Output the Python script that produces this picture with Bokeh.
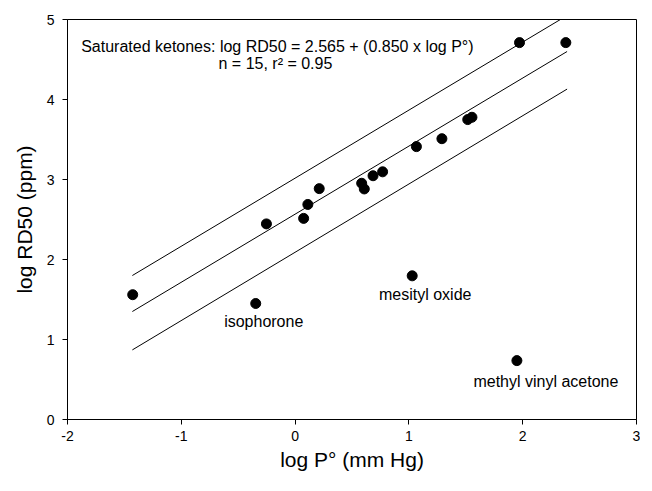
from bokeh.plotting import figure
from bokeh.models import ColumnDataSource, FixedTicker, Range1d
from bokeh.core.properties import value
from bokeh.embed import file_html
from bokeh.resources import INLINE

# Saturated ketones (n = 15)
sat_x = [-1.427, -0.252, 0.075, 0.112, 0.212, 0.585, 0.608, 0.685, 0.769,
         1.066, 1.290, 1.517, 1.554, 1.972, 2.379]
sat_y = [1.56, 2.445, 2.514, 2.688, 2.886, 2.953, 2.882, 3.047, 3.096,
         3.411, 3.51, 3.749, 3.778, 4.711, 4.711]

# Outliers
out_names = ["isophorone", "mesityl oxide", "methyl vinyl acetone"]
out_x = [-0.346, 1.029, 1.949]
out_y = [1.45, 1.796, 0.736]

# Regression line and band (end points)
line_x = [-1.43, 2.39]
fit_y = [1.35, 4.60]
upper_y = [1.80, 5.05]
lower_y = [0.87, 4.13]

x_ticks = [-2, -1, 0, 1, 2, 3]
x_tick_labels = ["-2", "-1", "0", "1", "2", "3"]
y_ticks = [0, 1, 2, 3, 4, 5]
y_tick_labels = ["0", "1", "2", "3", "4", "5"]

eq_line1 = "Saturated ketones: log RD50 = 2.565 + (0.850 x log P\u00b0)"
eq_line2 = "n = 15, r\u00b2 = 0.95"

FONT = "Liberation Sans"

p = figure(width=640, height=475, output_backend="svg", toolbar_location=None,
           x_range=Range1d(-2, 3), y_range=Range1d(0, 5),
           min_border_left=67, min_border_right=4, min_border_top=19,
           min_border_bottom=56)
p.background_fill_color = "white"
p.border_fill_color = "white"
p.outline_line_color = "black"
p.outline_line_width = 1
p.xgrid.visible = False
p.ygrid.visible = False

for ax in (p.xaxis[0], p.yaxis[0]):
    ax.axis_line_color = "black"
    ax.major_tick_line_color = "black"
    ax.major_tick_out = 5
    ax.major_tick_in = 0
    ax.minor_tick_line_color = None
    ax.major_label_text_font = FONT
    ax.major_label_text_font_size = "14px"
    ax.major_label_text_color = "black"
    ax.axis_label_text_font = FONT
    ax.axis_label_text_font_size = "21px"
    ax.axis_label_text_font_style = "normal"
    ax.axis_label_text_color = "black"

p.xaxis.ticker = FixedTicker(ticks=x_ticks)
p.yaxis.ticker = FixedTicker(ticks=y_ticks)
p.xaxis.major_label_overrides = {t: s for t, s in zip(x_ticks, x_tick_labels)}
p.yaxis.major_label_overrides = {t: s for t, s in zip(y_ticks, y_tick_labels)}
p.xaxis.axis_label = "log P\u00b0 (mm Hg)"
p.yaxis.axis_label = "log RD50 (ppm)"
p.xaxis.major_label_standoff = 6
p.yaxis.major_label_standoff = 8
p.xaxis.axis_label_standoff = 4
p.yaxis.axis_label_standoff = 8

# lines
p.line(line_x, upper_y, line_color="black", line_width=1)
p.line(line_x, fit_y, line_color="black", line_width=1)
p.line(line_x, lower_y, line_color="black", line_width=1)

# points
p.scatter(sat_x, sat_y, size=10, marker="circle", fill_color="black", line_color="black")
p.scatter(out_x, out_y, size=10, marker="circle", fill_color="black", line_color="black")

src = ColumnDataSource(dict(x=out_x, y=out_y, name=out_names,
                            xo=[8, 13, 29], yo=[18, 19, 21]))
p.text(x="x", y="y", text="name", x_offset="xo", y_offset="yo", source=src,
       text_align="center", text_baseline="middle",
       text_font=value(FONT), text_font_size="16px", text_color="black")

p.text(x=[-1.88], y=[4.66], text=[eq_line1], text_align="left", text_baseline="middle",
       text_font=value(FONT), text_font_size="16px", text_color="black")
p.text(x=[-0.673], y=[4.45], text=[eq_line2], text_align="left", text_baseline="middle",
       text_font=value(FONT), text_font_size="16px", text_color="black")

open("out.html", "w").write(file_html(p, INLINE))
